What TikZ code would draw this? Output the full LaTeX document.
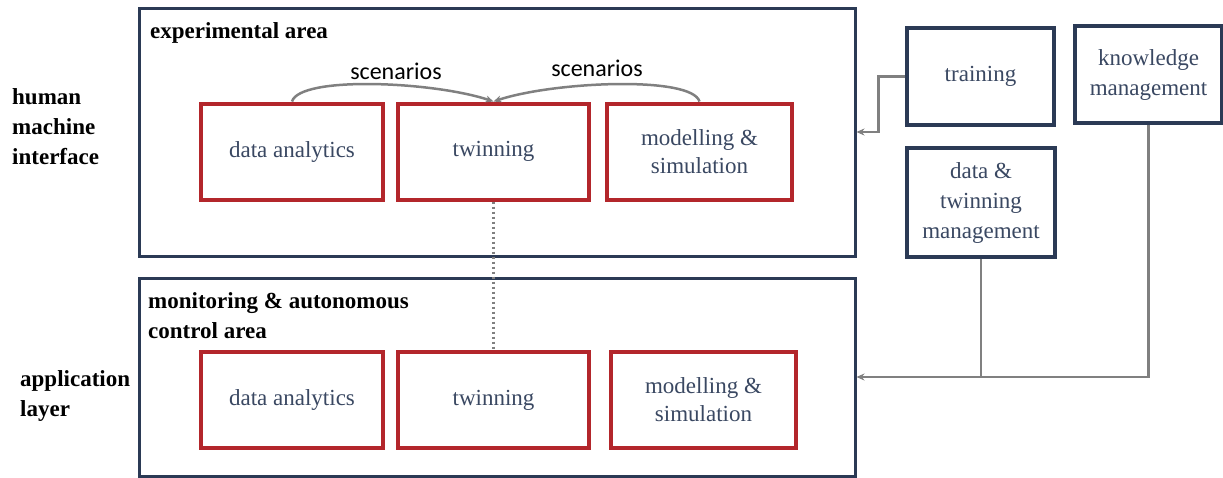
\documentclass[tikz,border=0pt]{standalone}
\usepackage{fontspec}
\setmainfont{Liberation Serif}
\newfontfamily\scenfont{Carlito}
\usetikzlibrary{arrows.meta}
\definecolor{navy}{HTML}{2B3A55}
\definecolor{boxred}{HTML}{B3262B}
\definecolor{txt}{HTML}{3A4862}
\definecolor{conn}{HTML}{808080}
\begin{document}
\begin{tikzpicture}[x=1pt,y=-1pt,
  area/.style={draw=navy,line width=3pt,minimum width=716pt,inner sep=0pt},
  redbox/.style={draw=boxred,line width=4pt,minimum width=182pt,minimum height=96pt,
     text=txt,align=center,font=\fontsize{23}{28}\selectfont},
  sidebox/.style={draw=navy,line width=3.5pt,minimum width=147pt,
     text=txt,align=center,font=\fontsize{23}{30}\selectfont},
  lbl/.style={font=\bfseries\fontsize{23}{30}\selectfont,align=left,inner sep=0pt,text=black},
  connline/.style={draw=conn,line width=2.5pt},
  tip/.style={-{Stealth[length=8pt,width=7pt]}},
  scen/.style={font=\scenfont\fontsize{24}{28}\selectfont,text=black,inner sep=0pt}
]
\useasboundingbox (0,0) rectangle (1223,477);
\fill[white] (0,0) rectangle (1223,477);

% areas
\node[area,minimum height=248pt] (expA) at (497,132) {};
\node[area,minimum height=198pt] (monA) at (497,377) {};

% area headings
\node[lbl,anchor=north west] (expT) at (150,22) {experimental area};
\node[lbl,anchor=north west] (monT) at (148,292) {monitoring \& autonomous\\control area};

% left labels
\node[lbl,anchor=north west] (hmi) at (12,88) {human\\machine\\interface};
\node[lbl,anchor=north west] (app) at (20,370) {application\\layer};

% red boxes, top row
\node[redbox] (da1) at (292,151.5) {data analytics};
\node[redbox,minimum width=191pt] (tw1) at (493.5,151.5) {twinning};
\node[redbox,minimum width=185pt] (ms1) at (699.5,151.5) {modelling \&\\simulation};

% red boxes, bottom row
\node[redbox] (da2) at (292,400) {data analytics};
\node[redbox,minimum width=191pt] (tw2) at (493.5,400) {twinning};
\node[redbox,minimum width=185pt] (ms2) at (703.5,400) {modelling \&\\simulation};

% right boxes
\node[sidebox,minimum height=97pt] (tr) at (980.5,76.5) {training};
\node[sidebox,minimum height=97pt] (km) at (1148.5,74.5) {knowledge\\management};
\node[sidebox,minimum width=148pt,minimum height=109pt] (dt) at (981,202.5) {data \&\\twinning\\management};

% scenarios arcs
\draw[connline,tip] (da1.north) .. controls +(8,-26) and +(-60,-20) .. (tw1.north);
\draw[connline,tip] (ms1.north) .. controls +(-8,-26) and +(60,-20) .. (tw1.north);
\node[scen] (sc1) at (396,71) {scenarios};
\node[scen] (sc2) at (597,68) {scenarios};

% dotted link
\draw[draw=conn,line width=2.5pt,dash pattern=on 2pt off 3pt] (tw1.south) -- (tw2.north);

% training connector
\draw[connline,tip] (tr.west) -- ++(-27,0) |- (expA.east);

% management connectors
\draw[connline,tip] (km.south) |- (monA.east);
\draw[connline] (dt.south) -- (dt.south |- monA.east);
\end{tikzpicture}
\end{document}
